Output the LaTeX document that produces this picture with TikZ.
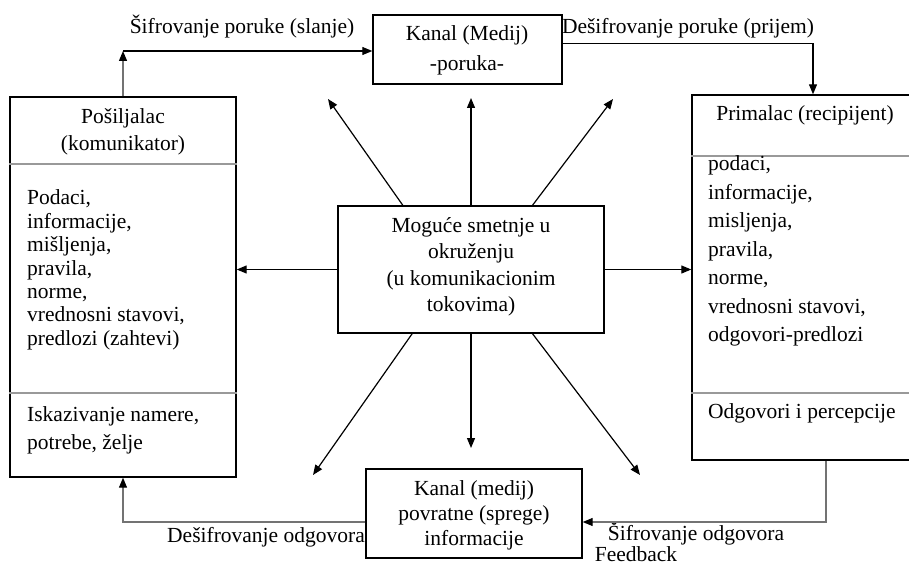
\documentclass[tikz,border=0pt]{standalone}
\usepackage{fontspec}
\setmainfont{Liberation Serif}
\usetikzlibrary{arrows.meta,calc}
\begin{document}
\begin{tikzpicture}[x=1pt,y=-1pt,
  box/.style={draw, line width=1.4pt, inner sep=0pt},
  txt/.style={inner sep=0pt, font=\fontsize{21.5}{24}\selectfont},
  ln/.style={line width=1.2pt},
  arr/.style={line width=1.2pt, -{Triangle[length=10pt,width=8pt,color=black]}},
  soft/.style={draw=black!55},
  sep/.style={line width=1.2pt, draw=black!40},
]
\useasboundingbox (0,0) rectangle (909,567);
\clip (0,0) rectangle (909,567);

% boxes
\node[box, minimum width=189pt, minimum height=69pt]  (kanal) at (467.5,49.5) {};
\node[box, minimum width=226pt, minimum height=380pt] (lb)    at (123,287)    {};
\node[box, minimum width=222pt, minimum height=365pt] (rb)    at (803,277.5)  {};
\node[box, minimum width=266pt, minimum height=127pt] (cb)    at (471,269.5)  {};
\node[box, minimum width=216pt, minimum height=89pt]  (bb)    at (474,513.5)  {};

% section rules inside the sender and receiver boxes
\draw[sep] (lb.west |- 0,164) -- (lb.east |- 0,164);
\draw[sep] (lb.west |- 0,393) -- (lb.east |- 0,393);
\draw[sep] (rb.west |- 0,156) -- (rb.east |- 0,156);
\draw[sep] (rb.west |- 0,393) -- (rb.east |- 0,393);

% box texts
\node[txt, align=center, font=\fontsize{21.5}{30}\selectfont] (kanalT) at (467,50) {Kanal (Medij)\\-poruka-};
\node[txt, align=center, font=\fontsize{21.5}{27}\selectfont] (lbHead) at (123,132) {Pošiljalac\\(komunikator)};
\node[txt, align=left, anchor=west, font=\fontsize{21.5}{23.4}\selectfont] (lbBody) at (27,270)
  {Podaci,\\informacije,\\mišljenja,\\pravila,\\norme,\\vrednosni stavovi,\\predlozi (zahtevi)};
\node[txt, align=left, anchor=west, font=\fontsize{21.5}{28}\selectfont] (lbFoot) at (27,430)
  {Iskazivanje namere,\\potrebe, želje};
\node[txt] (rbHead) at (805,115) {Primalac (recipijent)};
\node[txt, align=left, anchor=west, font=\fontsize{21.5}{28.5}\selectfont] (rbBody) at (708,251)
  {podaci,\\informacije,\\misljenja,\\pravila,\\norme,\\vrednosni stavovi,\\odgovori-predlozi};
\node[txt, anchor=west] (rbFoot) at (708,413) {Odgovori i percepcije};
\node[txt, align=center, font=\fontsize{21.5}{26.5}\selectfont] (cbT) at (471,267)
  {Moguće smetnje u\\okruženju\\(u komunikacionim\\tokovima)};
\node[txt, align=center, font=\fontsize{21.5}{25}\selectfont] (bbT) at (474,515)
  {Kanal (medij)\\povratne (sprege)\\informacije};

% flow labels
\node[txt] (lSend)  at (242,27)  {Šifrovanje poruke (slanje)};
\node[txt] (lRecv)  at (688,28)  {Dešifrovanje poruke (prijem)};
\node[txt] (lDec)   at (266,537) {Dešifrovanje odgovora};
\node[txt] (lEnc)   at (696,534) {Šifrovanje odgovora};
\node[txt] (lFeed)  at (636,554) {Feedback};

% message path: sender -> channel -> receiver
\coordinate (up1) at (123,51);
\draw[arr, soft] (lb.north) -- (up1);
\draw[arr] (up1) -- (up1 -| kanal.west);
\coordinate (dn1) at (813,43.5);
\draw[arr] (kanal.east |- dn1) -- (dn1) -- (dn1 |- rb.north);

% feedback path: receiver -> return channel -> sender
\coordinate (fb1) at (826,522);
\draw[arr, soft] (rb.south -| fb1) -- (fb1) -- (fb1 -| bb.east);
\coordinate (fb2) at (123,522);
\draw[arr, soft] (bb.west |- fb2) -- (fb2) -- (lb.south);

% noise arrows radiating from the central box
\coordinate (tNW) at (328,99);
\coordinate (tN)  at (471,98);
\coordinate (tNE) at (613,99);
\coordinate (tSW) at (313,475);
\coordinate (tS)  at (471,448);
\coordinate (tSE) at (640,475);
\draw[arr] (cb.west) -- (cb.west -| lb.east);
\draw[arr] (cb.east) -- (cb.east -| rb.west);
\draw[arr] (cb.north) -- (tN);
\draw[arr] ($(cb.north west)!0.245!(cb.north east)$) -- (tNW);
\draw[arr] ($(cb.north west)!0.73!(cb.north east)$) -- (tNE);
\draw[arr] (cb.south) -- (tS);
\draw[arr] ($(cb.south west)!0.28!(cb.south east)$) -- (tSW);
\draw[arr] ($(cb.south west)!0.73!(cb.south east)$) -- (tSE);
\end{tikzpicture}
\end{document}
